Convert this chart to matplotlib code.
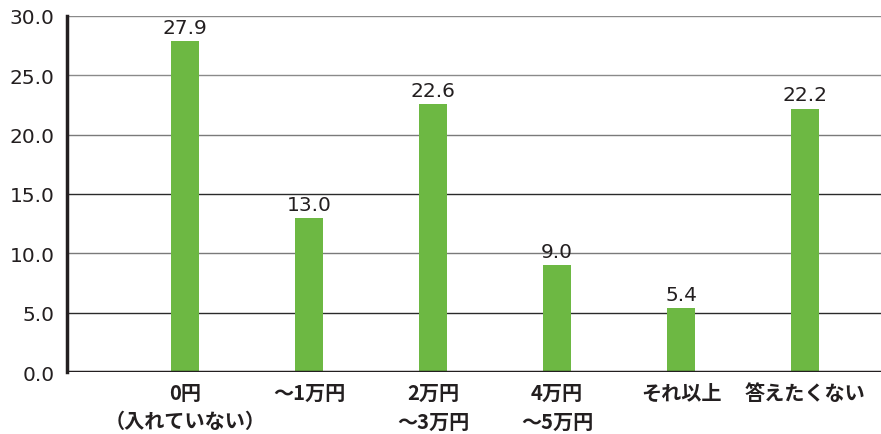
import matplotlib
matplotlib.use("Agg")
import matplotlib.pyplot as plt

plt.rcParams['font.family'] = ['Noto Sans CJK JP', 'DejaVu Sans']

categories = ["0円\n（入れていない）", "～1万円", "2万円\n～3万円", "4万円\n～5万円", "それ以上", "答えたくない"]
values = [27.9, 13.0, 22.6, 9.0, 5.4, 22.2]
yticks = [0, 5, 10, 15, 20, 25, 30]

fig = plt.figure(figsize=(8.81, 4.35), dpi=100)
ax = fig.add_axes([0.076, 0.1425, 0.924, 0.8185])

x = list(range(len(categories)))
ax.bar(x, values, width=0.226, color="#6db843", zorder=3)

for xi, v in zip(x, values):
    ax.annotate(f"{v:.1f}", (xi, v), xytext=(0, 3), textcoords="offset points",
                ha="center", va="bottom", fontsize=14.5, color="#231f20",
                family="DejaVu Sans")

ax.set_xlim(-0.95, 5.61)
ax.set_ylim(0, 30)
ax.set_yticks(yticks)
ax.set_yticklabels([f"{t:.1f}" for t in yticks], fontsize=14.5, color="#231f20",
                   family="DejaVu Sans")
ax.set_xticks(x)
ax.set_xticklabels(categories, fontsize=14.5, fontweight="bold", color="#231f20",
                   linespacing=1.45)
ax.tick_params(axis="both", length=0)
ax.tick_params(axis="x", pad=7)
ax.tick_params(axis="y", pad=9)

grid_colors = {5: "#2a2a2a", 10: "#7a7a7a", 15: "#2a2a2a", 20: "#7a7a7a",
               25: "#8a8a8a", 30: "#8a8a8a"}
for t in yticks[1:]:
    ax.axhline(t, color=grid_colors[t], lw=1.0, zorder=1)
ax.axhline(0, color="#231f20", lw=2.5, zorder=4)

for s in ["top", "right", "bottom"]:
    ax.spines[s].set_visible(False)
ax.spines["left"].set_linewidth(2.5)
ax.spines["left"].set_color("#231f20")

fig.savefig("out.png", dpi=100)
